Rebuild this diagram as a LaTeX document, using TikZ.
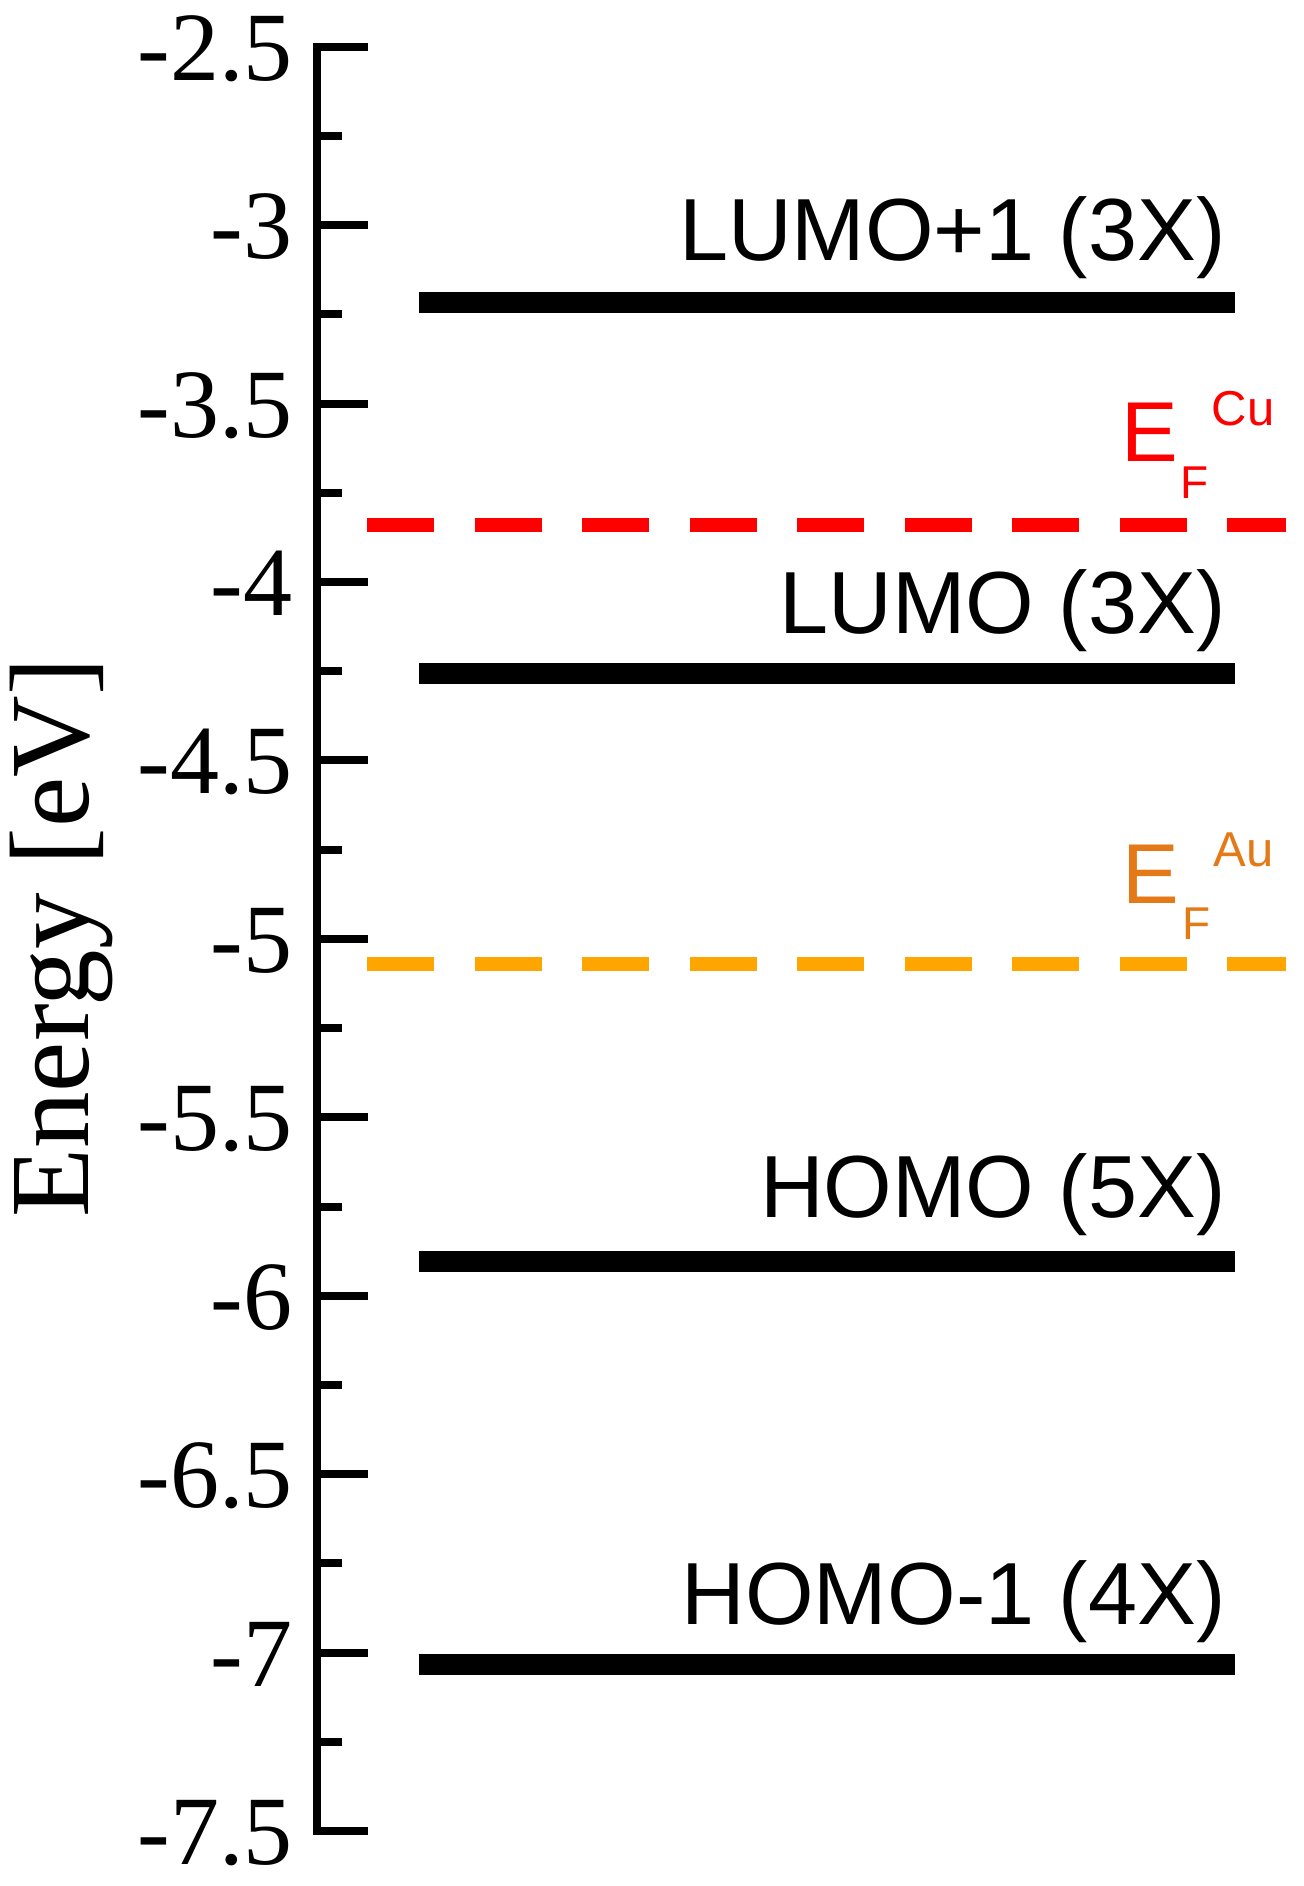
\documentclass[tikz,border=0pt]{standalone}
\usepackage{fontspec}
\newfontfamily\serifA{Liberation Serif}
\newfontfamily\sansA{Liberation Sans}
\definecolor{efcu}{RGB}{255,0,0}
\definecolor{efauline}{RGB}{255,165,0}
\definecolor{efautext}{RGB}{228,121,23}
\begin{document}
\begin{tikzpicture}[x=0.5pt,y=-0.5pt,
  axisline/.style={line width=3.8pt, line join=miter},
  tickmark/.style={line width=4pt},
  levelbar/.style={line width=10.5pt},
  fermi/.style={line width=6.8pt, dash pattern=on 33.5pt off 20.25pt},
  ticklabel/.style={anchor=base east, inner sep=0pt, font=\serifA\fontsize{49}{49}\selectfont},
  levellabel/.style={anchor=base east, inner sep=0pt, font=\sansA\fontsize{44.1}{44.1}\selectfont},
  efbig/.style={anchor=base west, inner sep=0pt, font=\sansA\fontsize{42.5}{42.5}\selectfont},
  efsub/.style={anchor=base west, inner sep=0pt, font=\sansA\fontsize{23}{23}\selectfont},
  efsup/.style={anchor=base west, inner sep=0pt, font=\sansA\fontsize{24.5}{24.5}\selectfont}
]
\useasboundingbox (0,0) rectangle (1304,1886);

% axis
\coordinate (atop) at (317,46.7);
\coordinate (abot) at (317,1831);
\draw[axisline] (367.7,46.7) -- (atop) -- (abot) -- (367.7,1831);
\foreach \k in {1,...,19}{
  \pgfmathsetmacro{\yy}{46.7+\k*89.215}
  \ifodd\k
    \draw[tickmark] (317,\yy) -- (341.7,\yy);
  \else
    \draw[tickmark] (317,\yy) -- (367.7,\yy);
  \fi
}
% tick labels
\foreach \lab [count=\i from 0] in {-2.5,-3,-3.5,-4,-4.5,-5,-5.5,-6,-6.5,-7,-7.5}{
  \pgfmathsetmacro{\yy}{46.7+\i*178.43+33.5}
  \node[ticklabel] (tl\i) at (293,\yy) {\lab};
}

% axis title
\node[rotate=90, anchor=base west, inner sep=0pt, font=\serifA\fontsize{56.5}{56.5}\selectfont] (ytitle) at (88.3,1218) {Energy [eV]};

% levels
\draw[levelbar] (418.5,302.8) -- (1234.5,302.8);
\draw[levelbar] (418.5,673.5) -- (1234.5,673.5);
\draw[levelbar] (418.5,1261.2) -- (1234.5,1261.2);
\draw[levelbar] (418.5,1664.2) -- (1234.5,1664.2);

\node[levellabel] (l1) at (1226,260) {LUMO+1 (3X)};
\node[levellabel] (l0) at (1226,633.3) {LUMO (3X)};
\node[levellabel] (h0) at (1226,1217.3) {HOMO (5X)};
\node[levellabel] (h1) at (1226,1624) {HOMO-1 (4X)};

% Fermi levels
\draw[fermi, efcu] (367.4,525) -- (1286,525);
\draw[fermi, efauline] (367.4,964.2) -- (1286,964.2);

\node[efbig, efcu] (cuE) at (1121.5,461.7) {E};
\node[efsub, efcu] (cuF) at (1180,498.3) {F};
\node[efsup, efcu] (cuS) at (1211.5,425.7) {Cu};

\node[efbig, efautext] (auE) at (1122.5,903.3) {E};
\node[efsub, efautext] (auF) at (1182,939.3) {F};
\node[efsup, efautext] (auS) at (1213,866.7) {Au};
\end{tikzpicture}
\end{document}
